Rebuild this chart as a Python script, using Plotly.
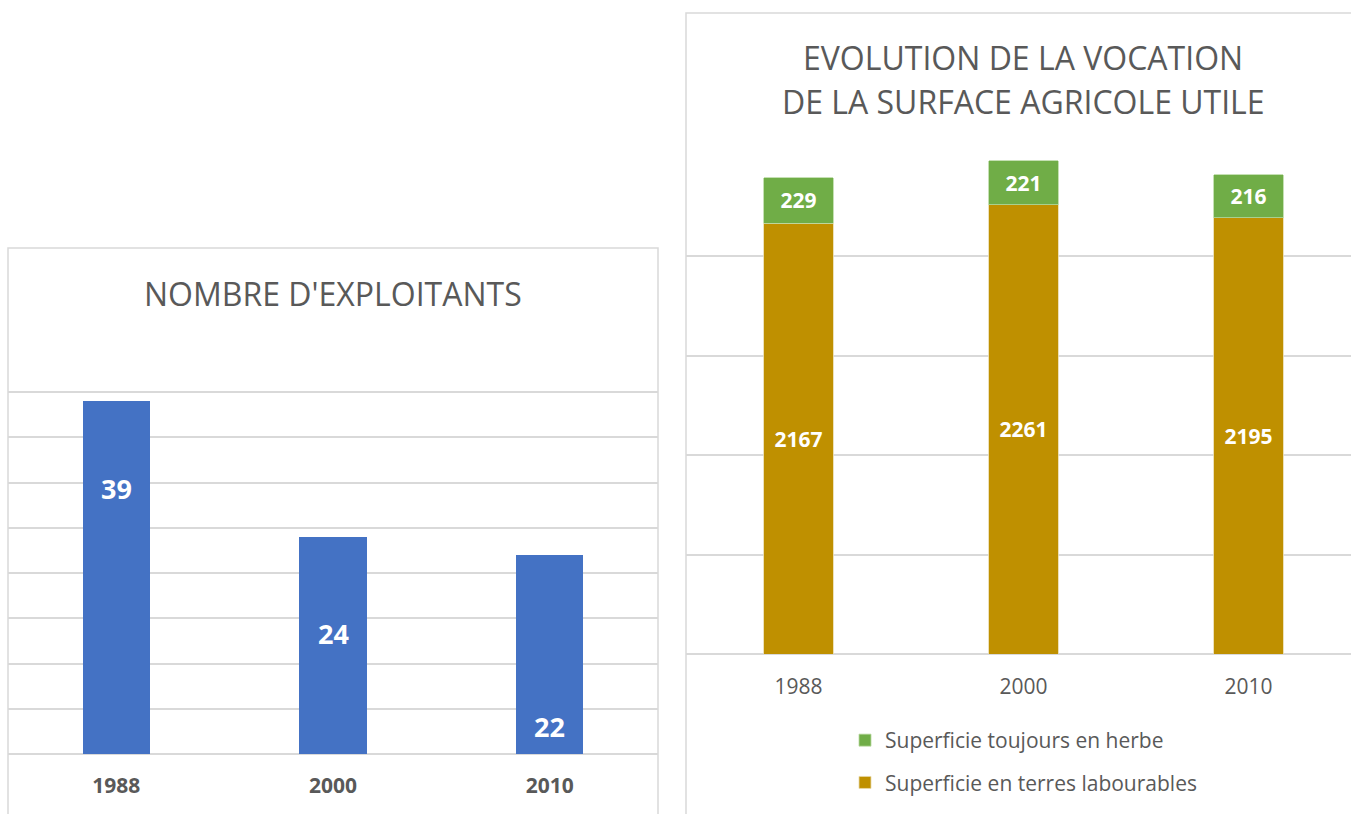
import plotly.graph_objects as go

years = ["1988", "2000", "2010"]
exploitants = [39, 24, 22]
herbe = [229, 221, 216]
labourables = [2167, 2261, 2195]

# label heights (in data units) for the left chart labels, as placed in the source
left_label_y = [29.3, 13.3, 3.0]

W, H = 1351, 814
FONT = "Open Sans"
GREY = "#595959"
GRID = "#d9d9d9"


def px(x):
    return x / W


def py(y):
    return 1 - y / H


fig = go.Figure()

fig.add_trace(go.Bar(
    x=years, y=exploitants, xaxis="x", yaxis="y",
    marker=dict(color="#4472C4", line=dict(width=0)),
    width=0.31, showlegend=False, hoverinfo="x+y",
))

fig.add_trace(go.Bar(
    x=years, y=labourables, xaxis="x2", yaxis="y2",
    name="Superficie en terres labourables", legendgroup="b", legendrank=2,
    marker=dict(color="#BF9000", line=dict(width=0.8, color="#e8d9a8")),
    width=0.31, text=labourables, textposition="inside",
    insidetextanchor="middle",
    textfont=dict(family=FONT, size=21, color="white", weight="bold"),
))
fig.add_trace(go.Bar(
    x=years, y=herbe, xaxis="x2", yaxis="y2",
    name="Superficie toujours en herbe", legendgroup="a", legendrank=1,
    marker=dict(color="#70AD47", line=dict(width=0.8, color="#b7d8a0")),
    width=0.31, text=herbe, textposition="inside",
    insidetextanchor="middle",
    textfont=dict(family=FONT, size=21, color="white", weight="bold"),
))

for i, (v, ly) in enumerate(zip(exploitants, left_label_y)):
    fig.add_annotation(x=i, y=ly, xref="x", yref="y", text=f"<b>{v}</b>",
                       showarrow=False, xanchor="center", yanchor="middle",
                       font=dict(family=FONT, size=27, color="white"))

fig.add_annotation(x=px(333), y=py(293), xref="paper", yref="paper",
                   text="NOMBRE D'EXPLOITANTS", showarrow=False,
                   xanchor="center", yanchor="middle",
                   font=dict(family=FONT, size=32, color=GREY))
for line, yy in (("EVOLUTION DE LA VOCATION", 57), ("DE LA SURFACE AGRICOLE UTILE", 102)):
    fig.add_annotation(x=px(1023), y=py(yy), xref="paper", yref="paper",
                       text=line, showarrow=False,
                       xanchor="center", yanchor="middle",
                       font=dict(family=FONT, size=32, color=GREY))

# chart frames
fig.add_shape(type="rect", xref="paper", yref="paper",
              x0=px(8), x1=px(658), y0=py(840), y1=py(248),
              line=dict(color=GRID, width=1.5))
fig.add_shape(type="rect", xref="paper", yref="paper",
              x0=px(686), x1=px(1380), y0=py(840), y1=py(13),
              line=dict(color=GRID, width=1.5))

fig.update_layout(
    width=W, height=H,
    margin=dict(l=0, r=0, t=0, b=0),
    paper_bgcolor="white", plot_bgcolor="white",
    barmode="stack",
    xaxis=dict(domain=[px(8), px(658)], range=[-0.5, 2.5], type="category",
               showgrid=False, showline=False, ticks="",
               tickfont=dict(family=FONT, size=21, color=GREY, weight="bold"),
               ticklabelstandoff=17, anchor="y"),
    yaxis=dict(domain=[py(754), py(347)], range=[0, 45], dtick=5,
               showticklabels=False, gridcolor=GRID, gridwidth=1.5,
               zeroline=True, zerolinecolor=GRID, zerolinewidth=1.5,
               anchor="x"),
    xaxis2=dict(domain=[px(686), 1.0], range=[-0.5, 2.5 - 10 / 225],
                type="category", showgrid=False, showline=False, ticks="",
                tickfont=dict(family=FONT, size=21, color=GREY),
                ticklabelstandoff=18, anchor="y2"),
    yaxis2=dict(domain=[py(654), py(157)], range=[0, 2500], dtick=500,
                showticklabels=False, gridcolor=GRID, gridwidth=1.5,
                zeroline=True, zerolinecolor=GRID, zerolinewidth=1.5,
                anchor="x2"),
    legend=dict(x=px(845), y=py(720), xanchor="left", yanchor="top",
                font=dict(family=FONT, size=21, color=GREY),
                traceorder="grouped", tracegroupgap=12, itemwidth=30,
                bgcolor="rgba(0,0,0,0)"),
    showlegend=True,
)

fig.write_html(
    "out.html",
    config={"displayModeBar": False},
    post_script="document.body.style.margin='0px';document.body.style.overflow='hidden';",
)
